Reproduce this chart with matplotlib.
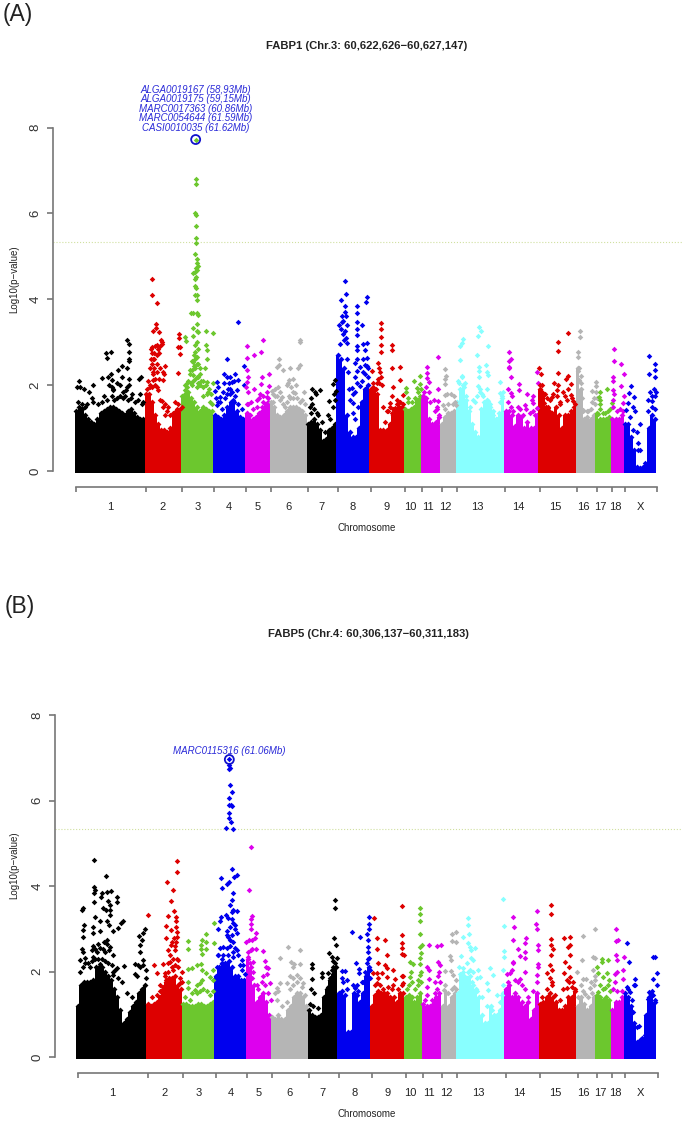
import numpy as np
import matplotlib
matplotlib.use('Agg')
import matplotlib.pyplot as plt

plt.rcParams['font.family'] = ['Liberation Sans', 'DejaVu Sans']

chrom_labels = ['1', '2', '3', '4', '5', '6', '7', '8', '9', '10', '11', '12', '13', '14', '15', '16', '17', '18', 'X']
chrom_colors = ['black', '#DD0000', '#6CC72E', '#0000EE', '#DD00EE', '#B5B5B5', 'black', '#0000EE', '#DD0000', '#6CC72E',
                '#DD00EE', '#B5B5B5', '#88FFFF', '#DD00EE', '#DD0000', '#B5B5B5', '#6CC72E', '#DD00EE', '#0000EE']
threshold = 5.33

# chromosome boundaries on the cumulative position scale
a_bounds = [228, 438, 546, 643, 739, 813, 924, 1013, 1112, 1215, 1267, 1325, 1371, 1516, 1619, 1732, 1790, 1836, 1876, 1972]
b_bounds = [233, 443, 550, 647, 742, 816, 927, 1016, 1115, 1217, 1269, 1327, 1372, 1517, 1620, 1733, 1790, 1836, 1876, 1973]
a_label_pos = [330, 488, 592, 687, 773, 865, 965, 1059, 1160, 1230, 1285, 1337, 1432, 1556, 1665, 1750, 1801, 1846, 1920]
b_label_pos = [336, 494, 597, 692, 777, 868, 968, 1063, 1163, 1232, 1287, 1339, 1434, 1557, 1666, 1751, 1802, 1846, 1921]

# height of the solid mass of points along each chromosome, panel A
a_fill_1 = [1.4, 1.5, 1.45, 1.3, 1.2, 1.15, 1.1, 1.2, 1.35, 1.4, 1.45, 1.5, 1.5, 1.45, 1.4, 1.35, 1.3, 1.4, 1.45, 1.35, 1.25, 1.2, 1.2]
a_fill_2 = [1.8, 1.8, 1.6, 1.3, 1.1, 0.95, 0.95, 0.9, 1.0, 1.3, 1.4, 1.35]
a_fill_3 = [1.75, 1.8, 1.85, 1.7, 1.6, 1.5, 1.4, 1.5, 1.45, 1.4, 1.4]
a_fill_4 = [1.3, 1.25, 1.2, 1.3, 1.5, 1.6, 1.6, 1.4, 1.25, 1.2]
a_fill_5 = [1.35, 1.3, 1.2, 1.25, 1.35, 1.4, 1.5, 1.6]
a_fill_6 = [1.6, 1.5, 1.3, 1.25, 1.3, 1.4, 1.5, 1.5, 1.5, 1.45, 1.4, 1.3]
a_fill_7 = [1.1, 1.15, 1.2, 1.1, 0.95, 0.7, 0.75, 0.95, 1.0, 1.1]
a_fill_8 = [2.7, 2.6, 2.4, 1.3, 0.9, 0.8, 0.8, 1.0, 1.6, 1.9, 2.0]
a_fill_9 = [1.9, 1.9, 1.8, 0.95, 0.95, 0.95, 1.1, 1.3, 1.4, 1.5, 1.5]
a_fill_10 = [1.45, 1.4, 1.45, 1.5, 1.65, 1.7]
a_fill_11 = [1.75, 1.7, 1.2, 1.1, 1.15, 1.25]
a_fill_12 = [1.1, 1.25, 1.35, 1.35, 1.4]
a_fill_13 = [1.6, 1.9, 2.0, 1.65, 1.4, 1.1, 0.9, 0.8, 1.45, 1.6, 1.65, 1.5, 1.4, 1.2, 1.35, 1.7]
a_fill_14 = [1.4, 1.4, 1.3, 1.05, 1.3, 1.25, 1.0, 1.15, 1.0, 1.0, 1.3]
a_fill_15 = [1.9, 1.8, 1.5, 1.4, 1.35, 1.5, 1.3, 1.0, 1.3, 1.3, 1.4, 1.5]
a_fill_16 = [2.4, 1.9, 1.2, 1.25, 1.2, 1.3]
a_fill_17 = [1.35, 1.2, 1.2, 1.2, 1.25]
a_fill_18 = [1.2, 1.2, 1.2, 1.3]
a_fill_x = [1.1, 1.1, 0.8, 0.5, 0.1, 0.08, 0.1, 0.15, 1.0, 1.3, 1.2]

# separate SNPs above the solid mass, panel A (position, -log10 p)
a_snp_1 = [(237, 2.1), (232, 1.95), (240, 1.95), (252, 1.9), (267, 1.85), (280, 2.0), (275, 1.7), (305, 2.17), (325, 2.2), (332, 2.27),
           (335, 2.12), (318, 2.75), (333, 2.77), (322, 2.63), (355, 2.35), (367, 2.45), (365, 2.2), (380, 3.05), (386, 2.95), (386, 2.77),
           (386, 2.6), (386, 2.57), (382, 2.4), (388, 2.15), (418, 2.15), (423, 2.2), (420, 1.8), (360, 2.0), (350, 2.05), (340, 1.88),
           (312, 1.75), (378, 1.88), (395, 1.8), (430, 1.6), (235, 1.6), (245, 1.55), (255, 1.5), (262, 1.55), (278, 1.6), (295, 1.55),
           (305, 1.6), (320, 1.65), (335, 1.75), (342, 1.65), (350, 1.7), (368, 1.7), (375, 1.75), (385, 1.65), (392, 1.7), (405, 1.6),
           (415, 1.65), (425, 1.55), (340, 1.9), (335, 1.95), (370, 1.85), (380, 1.95), (388, 2.0), (328, 2.0), (360, 1.75)]
a_snp_2 = [(457, 4.47), (457, 4.1), (470, 3.92), (468, 3.43), (458, 3.25), (478, 3.24), (468, 3.32), (483, 3.06), (470, 2.93), (485, 2.95),
           (455, 2.88), (478, 2.74), (462, 2.62), (452, 2.62), (470, 2.5), (495, 2.44), (462, 2.39), (488, 2.31), (493, 2.26), (535, 2.29),
           (538, 3.18), (538, 3.09), (535, 2.88), (540, 2.88), (540, 2.72), (458, 2.12), (490, 2.12), (450, 1.96), (487, 1.64), (495, 1.57),
           (505, 1.48), (525, 1.61), (535, 1.57), (475, 1.88), (465, 2.0), (460, 2.27), (450, 2.4), (455, 2.5), (458, 2.6), (462, 2.75),
           (455, 2.75), (470, 2.7), (475, 2.85), (480, 2.9), (465, 2.9), (452, 2.85), (485, 3.0), (458, 2.3), (472, 2.3), (480, 2.4),
           (445, 2.1), (465, 2.15), (478, 2.15), (450, 2.0), (442, 1.9), (470, 1.95), (455, 1.95), (480, 1.65), (490, 1.5), (500, 1.4),
           (518, 1.35), (530, 1.45), (540, 1.45), (545, 1.5), (510, 1.3), (495, 1.3)]
a_snp_3 = [(587, 7.72), (587, 6.79), (588, 6.68), (585, 6.0), (589, 5.96), (587, 5.7), (587, 5.43), (587, 5.32), (585, 5.05), (590, 4.93),
           (590, 4.84), (593, 4.78), (588, 4.72), (592, 4.68), (585, 4.64), (578, 4.6), (587, 4.51), (586, 4.47), (585, 4.31), (589, 4.26),
           (585, 4.1), (590, 4.1), (590, 3.98), (580, 3.67), (572, 3.67), (590, 3.67), (595, 3.63), (590, 3.43), (580, 3.34), (590, 3.26),
           (618, 3.26), (640, 3.22), (595, 3.24), (555, 3.12), (558, 3.03), (580, 3.14), (590, 3.0), (585, 2.93), (617, 2.93), (620, 2.81),
           (585, 2.78), (590, 2.66), (620, 2.6), (575, 2.57), (595, 2.5), (585, 2.39), (570, 2.36), (615, 2.39), (600, 2.27), (580, 2.23),
           (595, 2.18), (620, 2.08), (640, 2.04), (560, 2.04), (575, 2.0), (610, 1.96), (600, 2.0), (628, 1.9), (632, 1.8), (555, 1.88),
           (555, 2.0), (560, 1.95), (565, 2.1), (572, 2.05), (580, 2.1), (585, 2.15), (590, 2.2), (595, 2.05), (603, 2.1), (610, 2.1),
           (618, 2.0), (625, 1.85), (570, 2.25), (575, 2.35), (582, 2.45), (590, 2.5), (600, 2.4), (585, 2.6), (582, 2.7), (595, 2.85),
           (580, 2.55), (620, 1.8), (630, 1.6), (610, 1.75), (590, 1.95), (635, 1.55)]
a_snp_4 = [(714, 3.47), (682, 2.6), (733, 2.44), (672, 2.25), (705, 2.25), (690, 2.19), (680, 2.18), (652, 2.08), (695, 2.08), (715, 2.12),
           (653, 1.96), (732, 2.0), (645, 1.87), (683, 1.92), (710, 1.88), (690, 1.8), (660, 1.73), (675, 1.69), (700, 1.65), (650, 1.53),
           (648, 1.7), (655, 1.6), (668, 1.85), (680, 1.8), (690, 1.9), (697, 1.85), (705, 1.75), (715, 1.55), (725, 1.45), (660, 1.6),
           (672, 2.05), (688, 2.05), (702, 2.1), (665, 1.45)]
a_snp_5 = [(790, 3.06), (742, 2.91), (783, 2.78), (742, 2.64), (763, 2.7), (740, 2.35), (807, 2.25), (787, 2.18), (745, 2.18), (740, 2.08),
           (782, 2.02), (738, 1.96), (808, 1.98), (762, 1.9), (780, 1.8), (745, 1.85), (800, 1.73), (770, 1.65), (790, 1.61), (740, 1.57),
           (745, 1.55), (752, 1.6), (770, 1.5), (778, 1.7), (790, 1.75), (800, 1.85), (805, 1.7), (795, 1.55), (760, 1.45), (785, 1.5)]
a_snp_6 = [(901, 3.06), (901, 3.0), (836, 2.6), (837, 2.46), (830, 2.43), (870, 2.41), (900, 2.46), (895, 2.39), (848, 2.35), (878, 2.15),
           (868, 2.12), (862, 2.0), (835, 1.95), (825, 1.92), (815, 1.87), (888, 2.0), (912, 1.85), (885, 1.82), (845, 1.73), (870, 1.69),
           (900, 1.61), (820, 1.61), (820, 1.8), (830, 1.75), (840, 1.65), (850, 1.55), (860, 1.6), (868, 1.75), (878, 1.7), (880, 1.85),
           (890, 1.7), (905, 1.65), (915, 1.55), (855, 1.5), (872, 1.95), (865, 2.05), (825, 1.75), (840, 1.85)]
a_snp_7 = [(935, 1.92), (945, 1.85), (960, 1.88), (932, 1.69), (948, 1.79), (935, 1.57), (1005, 2.12), (1000, 2.02), (1007, 1.87), (987, 1.64),
           (1003, 1.8), (950, 1.34), (932, 1.34), (985, 1.3), (930, 1.5), (942, 1.45), (955, 1.3), (965, 1.15), (975, 0.9), (990, 1.2),
           (1000, 1.5), (1005, 1.65)]
a_snp_8 = [(1035, 4.42), (1037, 4.12), (1023, 3.98), (1100, 4.05), (1098, 3.93), (1072, 3.84), (1035, 3.85), (1072, 3.69), (1035, 3.7), (1038, 3.6),
           (1072, 3.46), (1027, 3.48), (1087, 3.4), (1040, 3.4), (1072, 3.3), (1072, 3.17), (1035, 3.25), (1100, 2.98), (1090, 2.95), (1072, 2.92),
           (1095, 2.82), (1070, 2.82), (1042, 2.98), (1100, 2.63), (1090, 2.61), (1065, 2.51), (1080, 2.43), (1095, 2.47), (1070, 2.32), (1065, 2.2),
           (1105, 2.4), (1055, 1.93), (1065, 1.85), (1080, 1.97), (1050, 1.66), (1060, 1.58), (1018, 3.4), (1022, 3.3), (1028, 3.2), (1032, 3.05),
           (1038, 3.1), (1025, 3.6), (1030, 3.5), (1020, 2.95), (1040, 2.6), (1045, 2.3), (1048, 1.9), (1060, 1.35), (1065, 1.2), (1075, 1.5),
           (1085, 1.6), (1090, 2.3), (1095, 2.25), (1105, 2.2), (1100, 2.45), (1085, 2.1), (1072, 2.05), (1072, 2.6), (1060, 1.8)]
a_snp_9 = [(1143, 3.44), (1142, 3.3), (1143, 3.13), (1142, 2.94), (1142, 2.78), (1175, 2.94), (1175, 2.82), (1200, 2.42), (1175, 2.39), (1200, 2.11),
           (1117, 2.32), (1135, 2.51), (1138, 2.4), (1142, 2.2), (1178, 1.96), (1208, 1.76), (1118, 2.05), (1175, 1.74), (1170, 1.58), (1190, 1.66),
           (1185, 1.46), (1165, 1.39), (1155, 1.15), (1120, 1.95), (1130, 2.05), (1135, 2.15), (1140, 2.3), (1138, 2.05), (1145, 2.0), (1128, 1.9),
           (1150, 1.5), (1160, 1.4), (1175, 1.35), (1190, 1.55), (1200, 1.6), (1208, 1.55), (1170, 1.5), (1180, 1.45)]
a_snp_10 = [(1261, 2.22), (1241, 2.09), (1260, 2.03), (1250, 1.93), (1218, 1.93), (1218, 1.84), (1260, 1.74), (1225, 1.6), (1225, 1.7), (1235, 1.6),
            (1245, 1.7), (1255, 1.85), (1262, 1.9)]
a_snp_11 = [(1315, 2.66), (1281, 2.43), (1280, 2.29), (1282, 2.16), (1286, 2.08), (1315, 1.9), (1302, 1.66), (1315, 1.62), (1312, 1.5), (1318, 1.3),
            (1288, 1.85), (1270, 1.74), (1272, 1.85), (1278, 1.95), (1290, 1.6), (1305, 1.4), (1310, 1.45)]
a_snp_12 = [(1335, 2.37), (1338, 2.22), (1336, 2.15), (1334, 2.02), (1353, 1.79), (1335, 1.76), (1342, 1.79), (1362, 1.74), (1367, 1.54), (1330, 1.54),
            (1335, 1.45), (1345, 1.55), (1358, 1.55), (1365, 1.6)]
a_snp_13 = [(1436, 3.36), (1444, 3.27), (1390, 3.07), (1386, 2.99), (1380, 2.9), (1435, 3.15), (1465, 2.91), (1432, 2.69), (1380, 2.59), (1458, 2.46),
            (1438, 2.43), (1460, 2.3), (1438, 2.32), (1437, 2.2), (1385, 2.22), (1378, 2.05), (1395, 2.05), (1465, 2.24), (1500, 2.08), (1435, 1.97),
            (1460, 1.91), (1440, 1.85), (1385, 1.81), (1500, 1.81), (1510, 1.85), (1420, 1.66), (1465, 1.62), (1385, 2.2), (1375, 2.1), (1392, 1.95),
            (1398, 1.75), (1410, 1.5), (1425, 1.6), (1432, 1.75), (1440, 1.9), (1450, 1.75), (1445, 1.8), (1455, 1.6), (1470, 1.55), (1480, 1.3),
            (1490, 1.2), (1500, 1.6), (1505, 1.75)]
a_snp_14 = [(1528, 2.78), (1534, 2.62), (1527, 2.57), (1527, 2.43), (1527, 2.4), (1532, 2.18), (1610, 2.31), (1558, 2.02), (1615, 2.05), (1525, 1.91),
            (1532, 1.81), (1557, 1.88), (1580, 1.79), (1600, 1.74), (1597, 1.66), (1535, 1.75), (1555, 1.5), (1575, 1.53), (1600, 1.58), (1610, 1.46),
            (1525, 1.6), (1532, 1.5), (1540, 1.4), (1560, 1.45), (1570, 1.3), (1578, 1.45), (1590, 1.35), (1600, 1.4), (1605, 1.3)]
a_snp_15 = [(1705, 3.22), (1674, 3.0), (1674, 2.79), (1674, 2.29), (1618, 2.4), (1623, 2.27), (1705, 2.22), (1697, 2.14), (1712, 2.02), (1662, 2.06),
            (1675, 2.0), (1670, 1.89), (1620, 2.0), (1625, 1.85), (1712, 1.77), (1655, 1.73), (1632, 1.58), (1700, 1.66), (1680, 1.56), (1645, 1.46),
            (1720, 1.62), (1625, 2.0), (1635, 1.8), (1640, 1.7), (1650, 1.65), (1660, 1.8), (1670, 1.75), (1680, 1.6), (1690, 1.85), (1695, 1.75),
            (1705, 1.9), (1715, 1.7), (1725, 1.55), (1645, 1.5)]
a_snp_16 = [(1739, 3.27), (1739, 3.12), (1735, 2.78), (1735, 2.66), (1738, 2.41), (1735, 2.32), (1742, 2.22), (1738, 2.12), (1787, 2.07), (1787, 1.97),
            (1787, 1.85), (1775, 1.87), (1782, 1.71), (1790, 1.7), (1750, 1.43), (1765, 1.39), (1742, 2.05), (1745, 1.7), (1748, 1.4), (1760, 1.4),
            (1772, 1.45), (1785, 1.55), (1775, 1.6)]
a_snp_17 = [(1820, 1.91), (1799, 1.84), (1800, 1.66), (1796, 1.72), (1800, 1.55), (1835, 1.58), (1815, 1.35), (1795, 1.32), (1800, 1.45), (1810, 1.35),
            (1825, 1.4), (1830, 1.45)]
a_snp_18 = [(1842, 2.84), (1843, 2.57), (1863, 2.5), (1872, 2.26), (1840, 2.18), (1840, 2.09), (1863, 1.98), (1840, 1.88), (1843, 1.79), (1872, 1.74),
            (1840, 1.66), (1870, 1.58), (1840, 1.5), (1850, 1.4), (1860, 1.45), (1870, 1.4)]
a_snp_x = [(1948, 2.67), (1965, 2.49), (1965, 2.36), (1948, 2.26), (1965, 2.2), (1962, 1.91), (1968, 1.84), (1950, 1.85), (1892, 1.99), (1888, 1.81),
           (1903, 1.72), (1885, 1.58), (1878, 1.43), (1920, 1.1), (1900, 1.5), (1955, 1.62), (1945, 1.39), (1915, 0.65), (1920, 0.5), (1935, 0.19),
           (1890, 1.25), (1898, 0.95), (1905, 1.4), (1910, 0.9), (1915, 0.5), (1945, 1.65), (1955, 1.5), (1965, 1.45), (1955, 1.75), (1965, 1.75)]

# height of the solid mass of points along each chromosome, panel B
b_fill_1 = [1.2, 1.7, 1.75, 1.75, 1.75, 1.8, 2.1, 2.1, 2.1, 2.0, 1.9, 1.8, 1.6, 1.4, 1.1, 0.8, 0.9, 1.05, 1.2, 1.3, 1.5, 1.6, 1.7]
b_fill_2 = [1.25, 1.2, 1.25, 1.3, 1.4, 1.6, 1.75, 1.85, 1.85, 1.9, 1.7, 1.6]
b_fill_3 = [1.25, 1.25, 1.2, 1.2, 1.2, 1.25, 1.25, 1.2, 1.2, 1.25, 1.3]
b_fill_4 = [1.9, 2.1, 2.2, 2.2, 2.25, 2.1, 1.9, 1.9, 1.8, 1.8]
b_fill_5 = [2.3, 2.1, 1.7, 1.3, 1.4, 1.5, 1.3, 1.0]
b_fill_6 = [0.95, 0.9, 1.0, 0.9, 0.9, 1.1, 1.2, 1.4, 1.5, 1.5, 1.4, 1.2]
b_fill_7 = [1.1, 1.0, 0.95, 0.95, 1.0, 1.4, 1.6, 1.8, 1.95, 2.1]
b_fill_8 = [1.5, 1.55, 1.45, 0.6, 0.6, 1.5, 1.45, 1.3, 1.5, 1.9, 2.1]
b_fill_9 = [1.2, 1.45, 1.55, 1.5, 1.5, 1.5, 1.4, 1.4, 1.3, 1.5, 1.5]
b_fill_10 = [1.4, 1.45, 1.4, 1.3, 1.4, 1.5]
b_fill_11 = [1.25, 1.2, 1.2, 1.25, 1.4, 1.5]
b_fill_12 = [1.2, 1.5, 1.2, 1.4, 1.5]
b_fill_13 = [1.5, 1.9, 1.9, 1.85, 1.9, 1.7, 1.6, 1.4, 1.0, 0.8, 0.8, 1.2, 1.0, 1.0, 1.1, 1.5]
b_fill_14 = [1.6, 1.7, 1.4, 1.5, 1.4, 1.3, 1.2, 1.3, 0.9, 1.1, 1.5]
b_fill_15 = [1.25, 1.3, 1.4, 1.5, 1.4, 1.3, 1.1, 1.1, 1.2, 1.4, 1.4, 1.55]
b_fill_16 = [1.2, 1.4, 1.25, 1.1, 1.2, 1.4]
b_fill_17 = [1.45, 1.4, 1.35, 1.4, 1.35]
b_fill_18 = [1.1, 1.3, 1.3, 1.4]
b_fill_x = [1.5, 1.4, 1.2, 0.8, 0.35, 0.4, 0.4, 1.0, 1.4, 1.45, 1.3]

# separate SNPs above the solid mass, panel B
b_snp_1 = [(283, 4.62), (317, 4.24), (281, 3.97), (285, 3.9), (283, 3.83), (305, 3.84), (320, 3.87), (333, 3.88), (350, 3.75), (350, 3.62),
           (303, 3.75), (325, 3.66), (283, 3.62), (330, 3.56), (308, 3.49), (318, 3.44), (330, 3.45), (250, 3.5), (245, 3.45), (285, 3.28),
           (330, 3.32), (300, 3.19), (320, 3.19), (368, 3.19), (362, 3.14), (355, 3.03), (340, 2.96), (252, 3.09), (248, 2.97), (250, 2.82),
           (280, 3.05), (280, 2.9), (300, 2.95), (328, 3.09), (435, 3.01), (430, 2.9), (418, 2.83), (425, 2.74), (320, 2.74), (285, 2.54),
           (310, 2.54), (245, 2.54), (248, 2.47), (330, 2.58), (275, 2.5), (420, 2.47), (420, 2.62), (240, 2.27), (255, 2.31), (280, 2.35),
           (338, 2.39), (372, 2.13), (405, 2.19), (428, 2.28), (300, 2.19), (350, 2.08), (340, 1.92), (240, 2.0), (248, 2.1), (255, 2.2),
           (265, 2.2), (275, 2.25), (285, 2.3), (295, 2.3), (305, 2.3), (315, 2.25), (325, 2.2), (335, 2.15), (345, 2.05), (270, 2.1),
           (290, 2.45), (300, 2.55), (315, 2.45), (328, 2.5), (278, 2.6), (295, 2.65), (312, 2.7), (322, 2.65), (340, 2.0), (355, 1.85),
           (365, 1.75), (380, 1.5), (395, 1.4), (410, 1.9), (420, 2.1), (430, 2.15), (438, 2.05), (415, 2.15), (405, 1.95), (438, 1.85)]
b_snp_2 = [(530, 4.58), (530, 4.33), (501, 4.1), (520, 3.91), (513, 3.66), (521, 3.42), (445, 3.32), (503, 3.3), (527, 3.28), (527, 3.19),
           (498, 3.07), (527, 3.05), (512, 2.97), (530, 2.93), (498, 2.78), (523, 2.78), (512, 2.62), (530, 2.82), (505, 2.5), (525, 2.5),
           (462, 2.15), (470, 1.98), (490, 2.19), (510, 2.23), (535, 2.27), (495, 1.96), (480, 1.69), (545, 1.99), (520, 2.03), (540, 1.73),
           (455, 1.4), (470, 1.45), (480, 1.55), (490, 1.65), (498, 1.8), (505, 2.0), (515, 2.1), (525, 2.15), (530, 2.3), (520, 2.3),
           (510, 2.4), (525, 2.6), (515, 2.7), (528, 2.7), (535, 2.1), (505, 2.2), (495, 1.9), (540, 1.85), (545, 1.75)]
b_snp_3 = [(642, 3.15), (564, 2.72), (618, 2.88), (607, 2.74), (618, 2.7), (642, 2.68), (565, 2.52), (603, 2.62), (603, 2.52), (618, 2.52),
           (605, 2.41), (603, 2.19), (590, 2.15), (575, 2.08), (640, 2.04), (563, 2.06), (605, 2.04), (565, 1.77), (618, 1.96), (600, 1.73),
           (565, 1.62), (630, 1.88), (640, 1.81), (585, 1.58), (555, 1.4), (570, 1.35), (590, 1.5), (600, 1.55), (610, 1.6), (620, 1.55),
           (590, 1.7), (605, 1.8), (630, 1.45), (640, 1.55), (575, 1.5)]
b_snp_4 = [(688, 6.96), (686, 6.83), (690, 6.75), (688, 6.73), (690, 6.36), (696, 6.19), (688, 6.05), (688, 5.9), (692, 5.9), (696, 5.87),
           (688, 5.71), (687, 5.6), (693, 5.5), (678, 5.37), (699, 5.34), (696, 4.39), (662, 4.2), (710, 4.26), (702, 4.22), (688, 4.09),
           (680, 4.06), (665, 3.95), (700, 3.85), (695, 3.67), (690, 3.56), (700, 3.44), (712, 3.42), (662, 3.28), (660, 3.19), (678, 3.32),
           (695, 3.24), (653, 3.0), (705, 3.09), (712, 2.91), (680, 2.86), (690, 2.74), (670, 2.58), (655, 2.39), (712, 2.5), (725, 2.27),
           (728, 2.15), (665, 2.19), (700, 2.35), (650, 2.12), (655, 2.4), (660, 2.55), (670, 2.4), (680, 2.55), (690, 2.6), (700, 2.7),
           (695, 2.85), (685, 2.8), (705, 2.55), (715, 2.4), (665, 2.3), (685, 2.4), (700, 2.45), (680, 2.95), (690, 3.05), (700, 3.15),
           (685, 3.25), (695, 3.4), (705, 3.0), (720, 2.15), (725, 2.05), (735, 1.95)]
b_snp_5 = [(754, 4.92), (747, 3.9), (755, 3.31), (753, 3.23), (752, 3.11), (753, 3.01), (767, 2.91), (765, 2.78), (757, 2.74), (748, 2.74),
           (737, 2.7), (755, 2.54), (767, 2.54), (788, 2.48), (795, 2.25), (798, 2.12), (805, 2.08), (810, 1.73), (760, 2.23), (745, 2.35),
           (745, 2.45), (752, 2.5), (750, 2.2), (760, 2.0), (755, 1.85), (770, 1.7), (775, 1.6), (785, 1.75), (790, 1.9), (800, 1.95),
           (795, 1.7), (805, 1.5), (812, 1.35)]
b_snp_6 = [(865, 2.57), (900, 2.51), (840, 2.31), (872, 2.23), (882, 2.19), (900, 2.19), (870, 1.9), (840, 1.73), (832, 1.62), (880, 2.1),
           (908, 1.73), (890, 1.92), (860, 1.73), (825, 1.5), (830, 1.35), (845, 1.2), (860, 1.3), (870, 1.6), (880, 1.85), (890, 1.75),
           (900, 1.85), (905, 1.65), (915, 1.45), (878, 1.7), (835, 1.55)]
b_snp_7 = [(1005, 3.67), (1005, 3.49), (1002, 2.78), (1008, 2.62), (987, 2.44), (995, 2.35), (1010, 2.31), (936, 2.17), (935, 2.08), (935, 1.84),
           (966, 1.98), (966, 1.88), (985, 1.96), (1000, 2.12), (932, 1.59), (943, 1.5), (930, 1.25), (940, 1.2), (955, 1.15), (975, 1.4),
           (985, 1.65), (990, 1.85), (1000, 2.25), (1005, 2.2), (995, 2.05)]
b_snp_8 = [(1106, 3.28), (1106, 3.11), (1106, 3.01), (1055, 2.93), (1081, 2.81), (1102, 2.88), (1103, 2.74), (1104, 2.58), (1105, 2.47), (1108, 2.31),
           (1068, 2.2), (1077, 2.06), (1078, 1.96), (1110, 2.04), (1025, 2.02), (1035, 2.02), (1040, 1.81), (1100, 1.88), (1065, 1.61), (1090, 1.77),
           (1100, 2.2), (1105, 2.3), (1108, 2.05), (1095, 2.0), (1085, 1.75), (1070, 1.7), (1060, 1.7), (1075, 1.55), (1025, 1.85), (1030, 1.75),
           (1040, 1.6), (1110, 1.85)]
b_snp_9 = [(1121, 3.25), (1132, 2.78), (1155, 2.75), (1132, 2.52), (1162, 2.39), (1135, 2.2), (1155, 2.16), (1160, 2.08), (1180, 2.04), (1132, 1.96),
           (1145, 1.98), (1185, 1.84), (1160, 1.88), (1120, 1.96), (1130, 1.73), (1180, 1.69), (1207, 3.53), (1206, 2.86), (1206, 2.66), (1206, 2.55),
           (1206, 2.42), (1212, 2.39), (1207, 1.9), (1210, 1.73), (1125, 1.7), (1135, 1.85), (1140, 1.7), (1150, 1.6), (1165, 1.65), (1175, 1.6),
           (1195, 1.6), (1205, 1.7), (1210, 1.9)]
b_snp_10 = [(1260, 3.48), (1260, 3.35), (1260, 3.19), (1261, 2.89), (1265, 2.62), (1260, 2.58), (1263, 2.43), (1260, 2.33), (1230, 2.23), (1238, 2.19),
            (1232, 2.0), (1260, 2.19), (1260, 1.92), (1230, 1.88), (1255, 1.69), (1222, 1.6), (1228, 1.7), (1235, 1.75), (1245, 1.6), (1255, 1.8),
            (1262, 2.0), (1262, 1.75)]
b_snp_11 = [(1287, 2.63), (1311, 2.6), (1323, 2.62), (1315, 2.23), (1320, 2.16), (1282, 2.1), (1288, 2.05), (1315, 1.9), (1305, 1.75), (1282, 1.65),
            (1288, 1.84), (1280, 1.46), (1275, 1.35), (1295, 1.35), (1305, 1.5), (1310, 1.6), (1320, 1.75), (1318, 2.0)]
b_snp_12 = [(1355, 2.88), (1368, 2.92), (1355, 2.72), (1369, 2.7), (1351, 2.37), (1353, 2.27), (1335, 2.02), (1352, 2.02), (1360, 1.92), (1368, 1.81),
            (1332, 1.57), (1335, 1.7), (1345, 1.5), (1355, 1.6), (1362, 1.65), (1368, 1.6)]
b_snp_13 = [(1510, 3.7), (1403, 3.26), (1403, 3.09), (1512, 3.08), (1390, 2.81), (1407, 2.87), (1403, 2.68), (1410, 2.58), (1425, 2.56), (1412, 2.5),
            (1412, 2.31), (1382, 2.37), (1378, 2.12), (1390, 2.08), (1420, 2.27), (1512, 2.48), (1512, 2.35), (1470, 2.09), (1480, 1.92), (1435, 2.04),
            (1440, 1.88), (1460, 1.73), (1510, 2.04), (1405, 1.99), (1465, 1.57), (1490, 1.46), (1380, 1.95), (1390, 2.0), (1400, 2.2), (1410, 2.05),
            (1420, 2.0), (1430, 1.85), (1405, 1.85), (1415, 1.75), (1430, 1.55), (1445, 1.4), (1460, 1.2), (1475, 1.1), (1500, 1.3), (1510, 1.7),
            (1505, 1.45)]
b_snp_14 = [(1538, 3.28), (1542, 3.05), (1612, 3.42), (1609, 3.11), (1612, 3.01), (1540, 2.74), (1577, 2.78), (1575, 2.66), (1555, 2.53), (1615, 2.62),
            (1615, 2.5), (1575, 2.45), (1559, 2.37), (1575, 2.31), (1538, 2.23), (1614, 2.19), (1530, 1.96), (1520, 1.94), (1575, 2.0), (1612, 1.92),
            (1560, 1.84), (1525, 1.75), (1535, 2.05), (1545, 1.8), (1555, 1.75), (1565, 1.7), (1575, 1.6), (1585, 1.4), (1600, 1.55), (1612, 1.75),
            (1615, 2.1), (1540, 2.2)]
b_snp_15 = [(1654, 3.57), (1652, 3.36), (1652, 2.76), (1691, 2.78), (1710, 2.82), (1705, 2.58), (1710, 2.62), (1652, 2.62), (1660, 2.52), (1654, 2.39),
            (1709, 2.39), (1695, 2.22), (1650, 2.16), (1655, 2.04), (1708, 2.1), (1640, 1.96), (1693, 1.96), (1710, 1.88), (1720, 1.75), (1655, 1.77),
            (1700, 1.61), (1625, 1.4), (1640, 1.6), (1650, 1.85), (1655, 1.7), (1665, 1.45), (1680, 1.35), (1690, 1.6), (1700, 1.8), (1708, 1.75),
            (1715, 1.65), (1725, 1.6)]
b_snp_16 = [(1749, 2.84), (1747, 2.28), (1732, 1.99), (1750, 1.84), (1758, 1.82), (1772, 1.75), (1742, 1.68), (1755, 1.49), (1784, 3.0), (1780, 2.34),
            (1785, 2.31), (1780, 2.04), (1785, 1.8), (1770, 1.61), (1735, 1.4), (1750, 1.55), (1765, 1.4), (1775, 1.5), (1782, 1.7), (1785, 1.9)]
b_snp_17 = [(1806, 2.3), (1824, 2.28), (1792, 2.1), (1805, 2.22), (1795, 1.96), (1820, 1.96), (1828, 1.81), (1810, 1.88), (1795, 1.53), (1815, 1.61),
            (1800, 1.7), (1810, 1.6), (1825, 1.7), (1830, 1.55)]
b_snp_18 = [(1849, 3.0), (1853, 2.75), (1848, 2.72), (1848, 2.4), (1850, 2.27), (1871, 2.35), (1868, 2.04), (1870, 1.84), (1852, 1.99), (1845, 1.76),
            (1840, 1.6), (1850, 1.55), (1865, 1.55), (1845, 1.95)]
b_snp_x = [(1880, 2.68), (1887, 2.22), (1906, 1.84), (1902, 1.69), (1905, 1.7), (1880, 1.65), (1960, 2.34), (1966, 2.35), (1970, 1.98), (1960, 1.82),
           (1970, 1.69), (1948, 1.53), (1918, 0.74), (1935, 0.52), (1925, 0.44), (1920, 0.29), (1945, 1.37), (1890, 1.53), (1885, 1.6), (1895, 1.35),
           (1900, 1.05), (1910, 0.7), (1950, 1.5), (1955, 1.55), (1965, 1.35), (1960, 1.45)]

a_fills = [a_fill_1, a_fill_2, a_fill_3, a_fill_4, a_fill_5, a_fill_6, a_fill_7, a_fill_8, a_fill_9, a_fill_10,
           a_fill_11, a_fill_12, a_fill_13, a_fill_14, a_fill_15, a_fill_16, a_fill_17, a_fill_18, a_fill_x]
a_snps = [a_snp_1, a_snp_2, a_snp_3, a_snp_4, a_snp_5, a_snp_6, a_snp_7, a_snp_8, a_snp_9, a_snp_10,
          a_snp_11, a_snp_12, a_snp_13, a_snp_14, a_snp_15, a_snp_16, a_snp_17, a_snp_18, a_snp_x]
b_fills = [b_fill_1, b_fill_2, b_fill_3, b_fill_4, b_fill_5, b_fill_6, b_fill_7, b_fill_8, b_fill_9, b_fill_10,
           b_fill_11, b_fill_12, b_fill_13, b_fill_14, b_fill_15, b_fill_16, b_fill_17, b_fill_18, b_fill_x]
b_snps = [b_snp_1, b_snp_2, b_snp_3, b_snp_4, b_snp_5, b_snp_6, b_snp_7, b_snp_8, b_snp_9, b_snp_10,
          b_snp_11, b_snp_12, b_snp_13, b_snp_14, b_snp_15, b_snp_16, b_snp_17, b_snp_18, b_snp_x]

a_top_hit = (587, 7.72)
a_hit_names = ['ALGA0019167 (58,93Mb)', 'ALGA0019175 (59,15Mb)', 'MARC0017363 (60.86Mb)', 'MARC0054644 (61.59Mb)', 'CASI0010035 (61.62Mb)']
b_top_hit = (688, 6.96)
b_hit_names = ['MARC0115316 (61.06Mb)']

W, H = 685, 1122
fig = plt.figure(figsize=(W / 100, H / 100), dpi=100)


def make_panel(left, right, top, bottom, zero, xlim, bounds, label_pos, fills, snps, hit, hit_names, name_gap):
    ax = fig.add_axes([left / W, 1 - bottom / H, (right - left) / W, (bottom - top) / H])
    ax.set_xlim(*xlim)
    ax.set_ylim(-(bottom - zero) / ((zero - top) / 8), 8)
    ax.patch.set_alpha(0)
    for s in ['top', 'right']:
        ax.spines[s].set_visible(False)
    for s in ['left', 'bottom']:
        ax.spines[s].set_color('#777777')
        ax.spines[s].set_linewidth(1.2)
    ax.spines['left'].set_bounds(0, 8)
    ax.spines['bottom'].set_bounds(bounds[0], bounds[-1])

    for i, color in enumerate(chrom_colors):
        # solid mass starts a little left of the tick
        x0, x1 = bounds[i] - 4, bounds[i + 1] - 4
        h = np.array(fills[i])
        w = (x1 - x0) / len(h)
        xs = x0 + w * (np.arange(len(h)) + 0.5)
        ax.bar(xs, h + 0.04, width=w + 0.5, bottom=-0.04, color=color, linewidth=0)
        ax.scatter(xs, h, s=9, marker='D', color=color, linewidths=0)
        pts = np.array(snps[i])
        ax.scatter(pts[:, 0], pts[:, 1], s=8, marker='D', color=color, linewidths=0, zorder=3)

    ax.plot(xlim, [threshold, threshold], color='#D0E0A0', lw=0.8, ls=':', zorder=1)
    ax.scatter([hit[0]], [hit[1]], s=42, facecolors='none', edgecolors='#1111CC', linewidths=1.3, zorder=4)

    ax.set_yticks([0, 2, 4, 6, 8])
    ax.set_yticklabels(['0', '2', '4', '6', '8'], rotation=90, va='center', fontsize=9.5, color='#333333')
    ax.tick_params(axis='y', length=4.5, width=1.2, color='#777777', pad=4)
    ax.set_xticks(bounds)
    ax.set_xticklabels([])
    ax.tick_params(axis='x', length=3.6, width=1.2, color='#777777')
    ax.set_xticks(label_pos, minor=True)
    ax.set_xticklabels(chrom_labels, minor=True, fontsize=8, color='#222222')
    ax.tick_params(axis='x', which='minor', length=0, pad=11)

    ax.set_xlabel('Chromosome', fontsize=7, color='#222222')
    ax.set_ylabel('Log10(p\u2212value)', fontsize=7, color='#222222')
    ax.yaxis.set_label_coords((19 - left) / (right - left), (bottom - (zero - 192)) / (bottom - top))
    ax.xaxis.set_label_coords((367 - left) / (right - left), -(523 - 487) / (bottom - top))

    # names of the top SNPs stacked above the circle
    n = len(hit_names)
    for k, name in enumerate(hit_names):
        ax.annotate(name, xy=hit, xytext=(0, name_gap + (n - 1 - k) * 6.75), textcoords='offset points', ha='center', va='bottom',
                    fontsize=7, style='italic', color='#2A2AD8')
    return ax


make_panel(53, 682, 127.5, 487, 471, (159, 2046), a_bounds, a_label_pos, a_fills, a_snps, a_top_hit, a_hit_names, 5.0)
make_panel(55, 682, 715, 1073, 1057.3, (165, 2046), b_bounds, b_label_pos, b_fills, b_snps, b_top_hit, b_hit_names, 2.7)

fig.text(367 / W, 1 - 46 / H, 'FABP1 (Chr.3: 60,622,626\u221260,627,147)', ha='center', va='center', fontsize=8.1, fontweight='bold', color='#222222')
fig.text(368 / W, 1 - 634 / H, 'FABP5 (Chr.4: 60,306,137\u221260,311,183)', ha='center', va='center', fontsize=8.1, fontweight='bold', color='#222222')
fig.text(3 / W, 1 - 15 / H, '(A)', ha='left', va='center', fontsize=16.5, color='#222222')
fig.text(5 / W, 1 - 606 / H, '(B)', ha='left', va='center', fontsize=16.5, color='#222222')

fig.savefig('out.png', dpi=100)
